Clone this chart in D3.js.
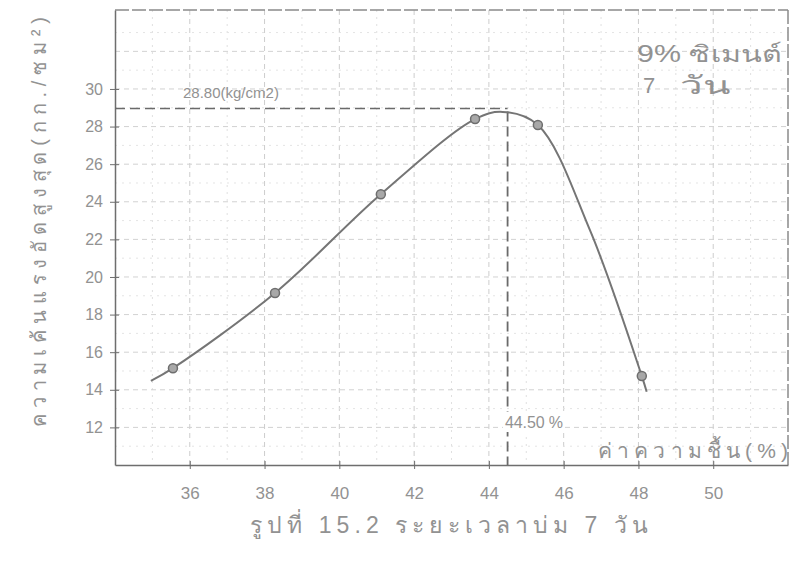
<!DOCTYPE html>
<html>
<head>
<meta charset="utf-8">
<script src="https://cdn.jsdelivr.net/npm/d3@7"></script>
<style>
  body { margin: 0; background: #fff; }
  text { fill: #929292; font-family: "Liberation Sans", "DejaVu Sans", sans-serif; }
</style>
</head>
<body>
<div id="chart"></div>
<script>
// measured points (moisture %, strength kg/cm2)
var moisture = [35.55, 38.28, 41.11, 43.63, 45.31, 48.09];
var strength = [15.15, 19.15, 24.40, 28.40, 28.08, 14.73];

// hand drawn curve knots
var curveX = [34.96, 35.55, 38.28, 41.11, 43.63, 44.37, 45.31, 46.70, 48.09, 48.22];
var curveY = [14.47, 15.15, 19.15, 24.40, 28.40, 28.78, 28.08, 22.50, 14.73, 13.90];

var xTicks = [36, 38, 40, 42, 44, 46, 48, 50];
var yTicks = [12, 14, 16, 18, 20, 22, 24, 26, 28, 30];

var peakX = 44.5, peakY = 28.8;

// set the dimensions
var width = 799, height = 576;

// set the ranges
var x = d3.scaleLinear().domain([34, 52]).range([115, 788]);
var y = d3.scaleLinear().domain([10, 34.2]).range([465, 10]);

var svg = d3.select("#chart").append("svg")
  .attr("width", width)
  .attr("height", height);

// graph paper grid
var grid = svg.append("g");
d3.range(35, 52).forEach(function(v) {
  grid.append("line")
    .attr("x1", x(v)).attr("x2", x(v))
    .attr("y1", y(34.2)).attr("y2", y(10))
    .attr("stroke", v % 2 == 0 ? "#cdcdcd" : "#e0e0e0")
    .attr("stroke-width", 1)
    .attr("stroke-dasharray", v % 2 == 0 ? "5,4" : "2,5");
});
d3.range(11, 34).forEach(function(v) {
  grid.append("line")
    .attr("x1", x(34)).attr("x2", x(52))
    .attr("y1", y(v)).attr("y2", y(v))
    .attr("stroke", v % 2 == 0 ? "#d2d2d2" : "#e4e4e4")
    .attr("stroke-width", 1)
    .attr("stroke-dasharray", v % 2 == 0 ? "5,4" : "2,5");
});

// frame top and right
svg.append("line")
  .attr("x1", x(34)).attr("x2", x(52))
  .attr("y1", y(34.2)).attr("y2", y(34.2))
  .attr("stroke", "#8a8a8a").attr("stroke-width", 1.5)
  .attr("stroke-dasharray", "14,3");
svg.append("line")
  .attr("x1", x(52)).attr("x2", x(52))
  .attr("y1", y(34.2)).attr("y2", y(10))
  .attr("stroke", "#8a8a8a").attr("stroke-width", 1.5)
  .attr("stroke-dasharray", "14,3");

// Add the X Axis
var xAxis = svg.append("g")
  .attr("transform", "translate(0," + y(10) + ")")
  .call(d3.axisBottom(x).tickValues(xTicks).tickSizeInner(8).tickSizeOuter(0).tickPadding(14));
xAxis.select(".domain").attr("stroke", "#6e6e6e").attr("stroke-width", 1.5);
xAxis.selectAll(".tick line").attr("stroke", "#6e6e6e").attr("y1", -4).attr("y2", 4);
xAxis.selectAll(".tick text").style("font-size", "17px").attr("fill", "#8c8c8c");

// Add the Y Axis
var yAxis = svg.append("g")
  .attr("transform", "translate(" + x(34) + ",0)")
  .call(d3.axisLeft(y).tickValues(yTicks).tickSizeInner(8).tickSizeOuter(0).tickPadding(4));
yAxis.select(".domain").attr("stroke", "#6e6e6e").attr("stroke-width", 1.5);
yAxis.selectAll(".tick line").attr("stroke", "#6e6e6e").attr("x1", -5).attr("x2", 4);
yAxis.selectAll(".tick text").style("font-size", "16px").attr("fill", "#9a9a9a");

// dashed guides to the peak
svg.append("line")
  .attr("x1", x(34)).attr("x2", x(peakX))
  .attr("y1", y(peakY) - 3).attr("y2", y(peakY) - 3)
  .attr("stroke", "#6a6a6a").attr("stroke-width", 1.5)
  .attr("stroke-dasharray", "10,5");
svg.append("line")
  .attr("x1", x(peakX)).attr("x2", x(peakX))
  .attr("y1", y(peakY)).attr("y2", y(10))
  .attr("stroke", "#6a6a6a").attr("stroke-width", 1.8)
  .attr("stroke-dasharray", "10,5");

// define the line
var knots = curveX.map(function(d, i) { return [d, curveY[i]]; });
var valueline = d3.line()
  .x(function(d) { return x(d[0]); })
  .y(function(d) { return y(d[1]); })
  .curve(d3.curveCatmullRom.alpha(0.5));

svg.append("path")
  .datum(knots)
  .attr("fill", "none")
  .attr("stroke", "#757575")
  .attr("stroke-width", 2)
  .attr("d", valueline);

// data points
svg.selectAll(".pt")
  .data(moisture)
  .enter().append("circle")
  .attr("class", "pt")
  .attr("cx", function(d) { return x(d); })
  .attr("cy", function(d, i) { return y(strength[i]); })
  .attr("r", 4.5)
  .attr("fill", "#a8a8a8")
  .attr("stroke", "#6e6e6e")
  .attr("stroke-width", 1.5);

// annotations
svg.append("text")
  .attr("x", 183).attr("y", 98)
  .style("font-size", "15px")
  .text("28.80(kg/cm2)");

svg.append("text")
  .attr("x", 637).attr("y", 62)
  .attr("textLength", 145).attr("lengthAdjust", "spacingAndGlyphs")
  .style("font-size", "23px")
  .attr("fill", "#9a9a9a")
  .text("9% ซิเมนต์");

svg.append("text")
  .attr("x", 643).attr("y", 93)
  .style("font-size", "22px")
  .attr("fill", "#9a9a9a")
  .text("7");
svg.append("text")
  .attr("x", 680).attr("y", 94)
  .attr("textLength", 50).attr("lengthAdjust", "spacingAndGlyphs")
  .style("font-size", "25px")
  .attr("fill", "#9a9a9a")
  .text("วัน");

svg.append("rect")
  .attr("x", 503).attr("y", 412).attr("width", 62).attr("height", 20)
  .attr("fill", "#fff");
svg.append("text")
  .attr("x", 505).attr("y", 428)
  .attr("textLength", 58)
  .style("font-size", "16px")
  .text("44.50 %");

svg.append("text")
  .attr("x", 598).attr("y", 458)
  .attr("textLength", 190)
  .style("font-size", "21px")
  .text("ค่าความชื้น(%)");

// Add the text for Y-axis
svg.append("text")
  .attr("transform", "translate(46,222) rotate(-90)")
  .attr("text-anchor", "middle")
  .attr("textLength", 410)
  .style("font-size", "20px")
  .text("ความเค้นแรงอัดสูงสุด(กก./ซม²)");

// title
svg.append("text")
  .attr("x", 250).attr("y", 533)
  .attr("textLength", 398)
  .style("font-size", "23px")
  .text("รูปที่ 15.2   ระยะเวลาบ่ม 7 วัน");
</script>
</body>
</html>
